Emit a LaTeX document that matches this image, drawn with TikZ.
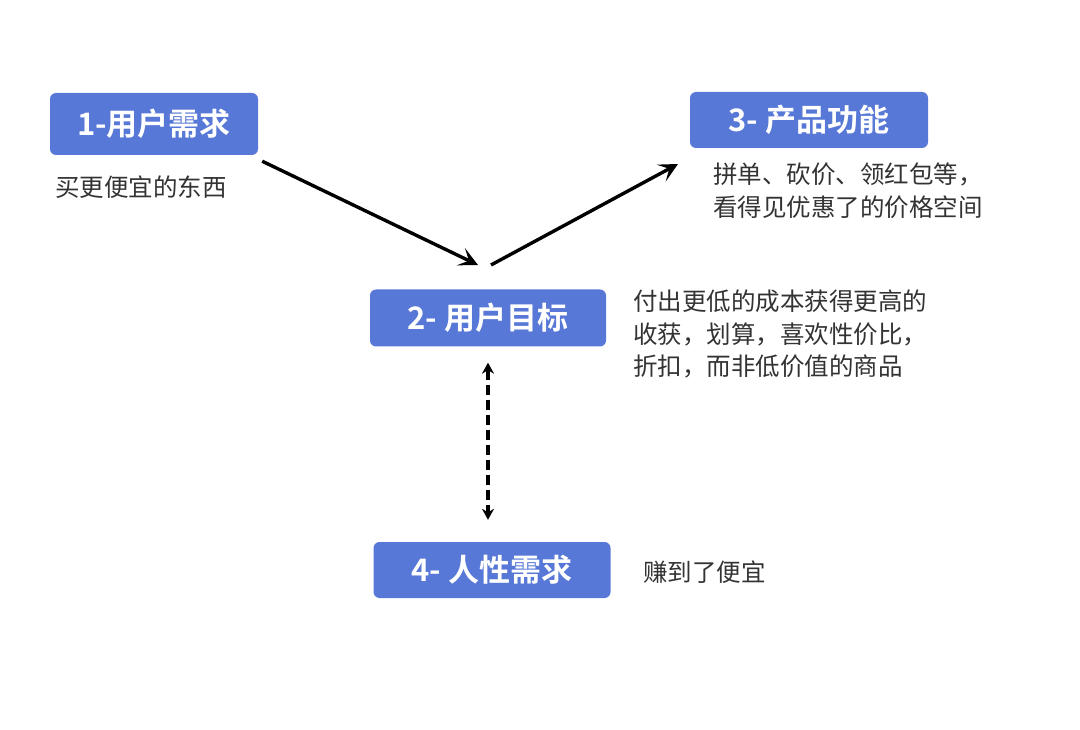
\documentclass[tikz,border=0pt]{standalone}
\usepackage{fontspec}
\newfontfamily\cjk{Noto Sans CJK SC}
\newfontfamily\cjkb{Noto Sans CJK SC Bold}
\usetikzlibrary{arrows.meta}
\definecolor{boxblue}{HTML}{5778D6}
\definecolor{txtgray}{HTML}{333333}
\tikzset{
  titlebox/.style={fill=boxblue, rounded corners=6pt, text=white, font=\cjkb\fontsize{31}{36}\selectfont, inner sep=0pt, align=center},
  bodytext/.style={text=txtgray, font=\cjk\fontsize{24.5}{32.5}\selectfont, align=left, inner sep=0pt, anchor=west},
  flowarrow/.style={line width=3.4pt, -{Stealth[length=19pt,width=19pt,inset=9pt]}},
  linkarrow/.style={line width=3.4pt, dash pattern=on 10pt off 5pt, {Stealth[length=11pt,width=12pt]}-{Stealth[length=11pt,width=12pt]}}
}
\begin{document}
\begin{tikzpicture}[x=1pt,y=-1pt]
\useasboundingbox[fill=white] (0,0) rectangle (1080,730);
% boxes
\node[titlebox, minimum width=208pt, minimum height=62pt] (b1) at (154,124) {1-用户需求};
\node[titlebox, minimum width=238pt, minimum height=56pt] (b3) at (809,120) {3- 产品功能};
\node[titlebox, minimum width=236pt, minimum height=57pt] (b2) at (488,318) {2- 用户目标};
\node[titlebox, minimum width=237pt, minimum height=56pt] (b4) at (492,570) {4- 人性需求};
% texts
\node[bodytext] (t1) at (55,187) {买更便宜的东西};
\node[bodytext, anchor=north west] (t3) at (713,163) {拼单、砍价、领红包等，\\看得见优惠了的价格空间};
\node[bodytext, anchor=north west] (t2) at (633,290) {付出更低的成本获得更高的\\收获，划算，喜欢性价比，\\折扣，而非低价值的商品};
\node[bodytext] (t4) at (643,572) {赚到了便宜};
% connectors
\coordinate (m1) at (478,265);
\coordinate (m2) at (491,265);
\draw[flowarrow] (b1.south east) ++(4,6) coordinate (s1) -- (m1);
\draw[flowarrow] (m2) -- (678,164) coordinate (e2);
\coordinate (d1) at ([yshift=-16pt]b2.south);
\coordinate (d2) at ([yshift=22pt]b2.south |- b4.north);
\draw[linkarrow] (d1) -- (d2);
\end{tikzpicture}
\end{document}
